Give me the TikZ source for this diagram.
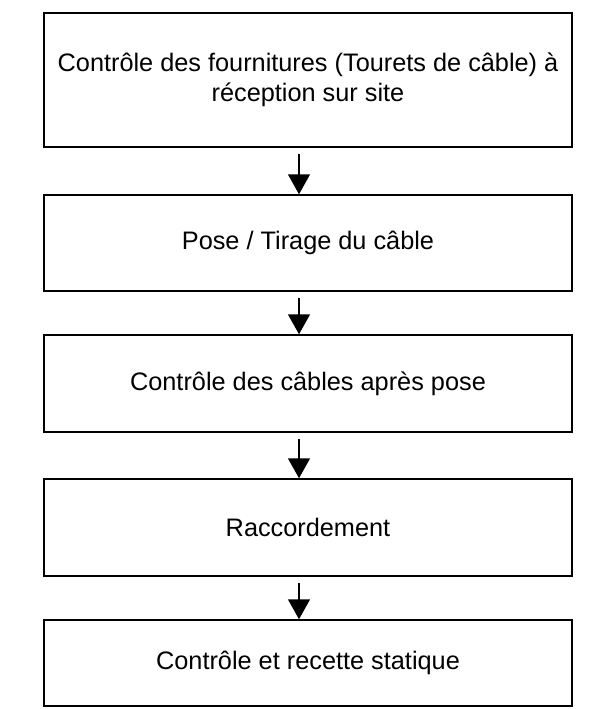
\documentclass[tikz,border=0pt]{standalone}
\usepackage{fontspec}
\setmainfont{Liberation Sans}
\usetikzlibrary{arrows.meta,calc}
\begin{document}
\begin{tikzpicture}[x=1pt,y=-1pt,
  stagebox/.style={draw=black, line width=1.5pt, rectangle, minimum width=528pt,
    align=center, inner sep=0pt, font=\fontsize{25.3}{30.5}\selectfont},
  flowarrow/.style={line width=1.5pt, -{Triangle[width=22pt,length=20pt]}}]
\useasboundingbox (0,0) rectangle (599,709);
\node[stagebox, minimum height=134pt] (b1) at (308,80)
  {Contrôle des fournitures (Tourets de câble) à\\réception sur site};
\node[stagebox, minimum height=96pt] (b2) at (308,243) {Pose / Tirage du câble};
\node[stagebox, minimum height=97pt] (b3) at (308,383.5) {Contrôle des câbles après pose};
\node[stagebox, minimum height=97pt] (b4) at (308,527.5) {Raccordement};
\node[stagebox, minimum height=86pt] (b5) at (308,663) {Contrôle et recette statique};
\foreach \a/\b in {b1/b2,b2/b3,b3/b4,b4/b5}
  \draw[flowarrow] ($(\a.south)+(-9,6)$) -- ($(\b.north)+(-9,0)$);
\end{tikzpicture}
\end{document}
